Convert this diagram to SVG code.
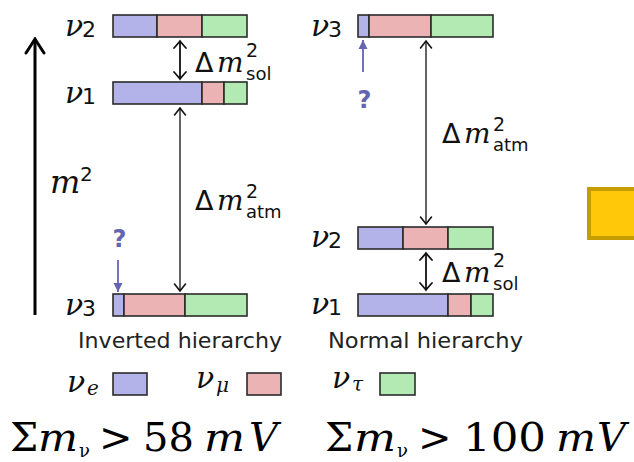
<svg xmlns="http://www.w3.org/2000/svg" width="634" height="462" viewBox="0 0 634 462">
<style>
.bar rect{stroke:#2b2b2b;stroke-width:1.6}
.e{fill:#b3b3ea}.mu{fill:#ebb3b3}.tau{fill:#b3eab3}
.nu{font-family:"DejaVu Serif",serif;font-style:italic;font-size:30px;fill:#111}
.sub{font-family:"DejaVu Sans",sans-serif;font-size:22px;fill:#111}
.delta{font-family:"DejaVu Sans",sans-serif;font-size:27px;fill:#111}
.mi{font-family:"DejaVu Serif",serif;font-style:italic;font-size:28px;fill:#111}
.sup{font-family:"DejaVu Sans",sans-serif;font-size:19px;fill:#111}
.lab{font-family:"DejaVu Sans",sans-serif;font-size:18px;fill:#111}
.cap{font-family:"DejaVu Sans",sans-serif;font-size:21px;fill:#222}
.q{font-family:"DejaVu Sans",sans-serif;font-weight:bold;font-size:24px;fill:#6464b0}
.lsub{font-family:"DejaVu Serif",serif;font-style:italic;font-size:20px;fill:#111}
.big{font-family:"DejaVu Serif",serif;font-size:40px;fill:#000}
.bigi{font-family:"DejaVu Serif",serif;font-style:italic;font-size:40px;fill:#000}
.nsub{font-family:"DejaVu Serif",serif;font-size:18px;fill:#000}
.conn line{fill:none}
</style>
<defs>
<marker id="hs" viewBox="-10 -8 12 16" refX="0" refY="0" markerWidth="12" markerHeight="16" orient="auto-start-reverse" markerUnits="userSpaceOnUse">
<path d="M-7,-6 Q-2,-1.5 0,0 Q-2,1.5 -7,6" fill="none" stroke="#111" stroke-width="1.8" stroke-linecap="round"/>
</marker>
<marker id="ha" viewBox="-10 -8 12 16" refX="0" refY="0" markerWidth="12" markerHeight="16" orient="auto-start-reverse" markerUnits="userSpaceOnUse">
<path d="M-7,-5.5 Q-2,-1.5 0,0 Q-2,1.5 -7,5.5" fill="none" stroke="#111" stroke-width="1.6" stroke-linecap="round"/>
</marker>
<marker id="hbig" viewBox="-18 -12 20 24" refX="0" refY="0" markerWidth="20" markerHeight="24" orient="auto-start-reverse" markerUnits="userSpaceOnUse">
<path d="M-14,-9 Q-4,-2.5 0,0 Q-4,2.5 -14,9" fill="none" stroke="#000" stroke-width="3" stroke-linecap="round"/>
</marker>
<marker id="hq" viewBox="-10 -6 12 12" refX="0" refY="0" markerWidth="12" markerHeight="12" orient="auto-start-reverse" markerUnits="userSpaceOnUse">
<path d="M-9,-4.5 L0,0 L-9,4.5 Z" fill="#6464b0"/>
</marker>
</defs>

<g id="axis">
<line x1="35" y1="315" x2="35" y2="39" stroke="#000" stroke-width="3" marker-end="url(#hbig)"/>
<text class="mi" x="50" y="193" style="font-size:32px">m</text>
<text class="sup" x="80" y="181" style="font-size:20px">2</text>
</g>

<!-- Inverted hierarchy -->
<g id="inv-nu2">
<text class="nu" x="65" y="36">ν</text><text class="sub" x="82" y="37">2</text>
<g class="bar"><rect class="e" x="113" y="15" width="44" height="22"/><rect class="mu" x="157" y="15" width="45" height="22"/><rect class="tau" x="202" y="15" width="45" height="22"/></g>
</g>
<g id="inv-nu1">
<text class="nu" x="65" y="103">ν</text><text class="sub" x="82" y="104">1</text>
<g class="bar"><rect class="e" x="113" y="82" width="89" height="22"/><rect class="mu" x="202" y="82" width="22" height="22"/><rect class="tau" x="224" y="82" width="23" height="22"/></g>
</g>
<g id="inv-nu3">
<text class="nu" x="65" y="315">ν</text><text class="sub" x="82" y="316">3</text>
<g class="bar"><rect class="e" x="113" y="294" width="11" height="22"/><rect class="mu" x="124" y="294" width="61" height="22"/><rect class="tau" x="185" y="294" width="62" height="22"/></g>
</g>

<!-- Normal hierarchy -->
<g id="norm-nu3">
<text class="nu" x="311" y="36">ν</text><text class="sub" x="328" y="37">3</text>
<g class="bar"><rect class="e" x="358" y="15" width="11" height="22"/><rect class="mu" x="369" y="15" width="62" height="22"/><rect class="tau" x="431" y="15" width="62" height="22"/></g>
</g>
<g id="norm-nu2">
<text class="nu" x="311" y="247">ν</text><text class="sub" x="328" y="248">2</text>
<g class="bar"><rect class="e" x="358" y="227" width="45" height="22"/><rect class="mu" x="403" y="227" width="45" height="22"/><rect class="tau" x="448" y="227" width="45" height="22"/></g>
</g>
<g id="norm-nu1">
<text class="nu" x="311" y="314">ν</text><text class="sub" x="328" y="315">1</text>
<g class="bar"><rect class="e" x="358" y="294" width="90" height="22"/><rect class="mu" x="448" y="294" width="23" height="22"/><rect class="tau" x="471" y="294" width="22" height="22"/></g>
</g>

<g id="connectors" class="conn">
<line x1="180" y1="41" x2="180" y2="79" stroke="#111" stroke-width="1.8" marker-start="url(#hs)" marker-end="url(#hs)"/>
<line x1="180" y1="108" x2="180" y2="291" stroke="#111" stroke-width="1.3" marker-start="url(#ha)" marker-end="url(#ha)"/>
<line x1="426" y1="41" x2="426" y2="224" stroke="#111" stroke-width="1.3" marker-start="url(#ha)" marker-end="url(#ha)"/>
<line x1="426" y1="253" x2="426" y2="290" stroke="#111" stroke-width="1.8" marker-start="url(#hs)" marker-end="url(#hs)"/>
<line x1="118" y1="260" x2="118" y2="292" stroke="#6464b0" stroke-width="1.8" marker-end="url(#hq)"/>
<line x1="363" y1="72" x2="363" y2="40" stroke="#6464b0" stroke-width="1.8" marker-end="url(#hq)"/>
</g>

<g id="lbl-sol-inv">
<text class="delta" x="195" y="72">Δ</text><text class="mi" x="217" y="72">m</text><text class="sup" x="246" y="57">2</text><text class="lab" x="246" y="80">sol</text>
</g>
<g id="lbl-atm-inv">
<text class="delta" x="195" y="210">Δ</text><text class="mi" x="217" y="210">m</text><text class="sup" x="246" y="198">2</text><text class="lab" x="246" y="218">atm</text>
</g>
<g id="lbl-atm-norm" transform="translate(247,-67)">
<text class="delta" x="195" y="210">Δ</text><text class="mi" x="217" y="210">m</text><text class="sup" x="246" y="198">2</text><text class="lab" x="246" y="218">atm</text>
</g>
<g id="lbl-sol-norm" transform="translate(247,210)">
<text class="delta" x="195" y="72">Δ</text><text class="mi" x="217" y="72">m</text><text class="sup" x="246" y="57">2</text><text class="lab" x="246" y="80">sol</text>
</g>

<g id="q-inv"><text class="q" x="119.5" y="247" text-anchor="middle">?</text></g>
<g id="q-norm"><text class="q" x="364.5" y="108" text-anchor="middle">?</text></g>

<text class="cap" x="78" y="348" textLength="204" lengthAdjust="spacingAndGlyphs">Inverted hierarchy</text>
<text class="cap" x="328" y="348" textLength="195" lengthAdjust="spacingAndGlyphs">Normal hierarchy</text>

<g id="legend">
<text class="nu" x="67" y="392">ν</text><text class="lsub" x="87" y="395">e</text>
<rect class="e" x="113" y="373" width="34" height="22" stroke="#2b2b2b" stroke-width="1.6"/>
<text class="nu" x="196" y="388">ν</text><text class="lsub" x="216" y="392">μ</text>
<rect class="mu" x="247" y="373" width="34" height="22" stroke="#2b2b2b" stroke-width="1.6"/>
<text class="nu" x="332" y="388">ν</text><text class="lsub" x="352" y="391">τ</text>
<rect class="tau" x="380" y="373" width="35" height="22" stroke="#2b2b2b" stroke-width="1.6"/>
</g>

<g id="sum-ih">
<text class="big" x="10" y="451">Σ</text><text class="bigi" x="38" y="451" textLength="40" lengthAdjust="spacingAndGlyphs">m</text><text class="nsub" x="79" y="457">ν</text>
<text class="big" x="99" y="451">&gt;</text><text class="big" x="143" y="451">58</text>
<text class="bigi" x="204" y="451" textLength="41" lengthAdjust="spacingAndGlyphs">m</text><text class="bigi" x="249" y="451">V</text>
</g>
<g id="sum-nh">
<text class="big" x="325" y="451">Σ</text><text class="bigi" x="354" y="451" textLength="42" lengthAdjust="spacingAndGlyphs">m</text><text class="nsub" x="397" y="457">ν</text>
<text class="big" x="418" y="451">&gt;</text><text class="big" x="463" y="451" textLength="83" lengthAdjust="spacingAndGlyphs">100</text>
<text class="bigi" x="556" y="451" textLength="40" lengthAdjust="spacingAndGlyphs">m</text><text class="bigi" x="597" y="451">V</text>
</g>

<g id="yellow-box"><rect x="589" y="189" width="60" height="49" fill="#ffc90a" stroke="#c79c00" stroke-width="4"/></g>
</svg>
